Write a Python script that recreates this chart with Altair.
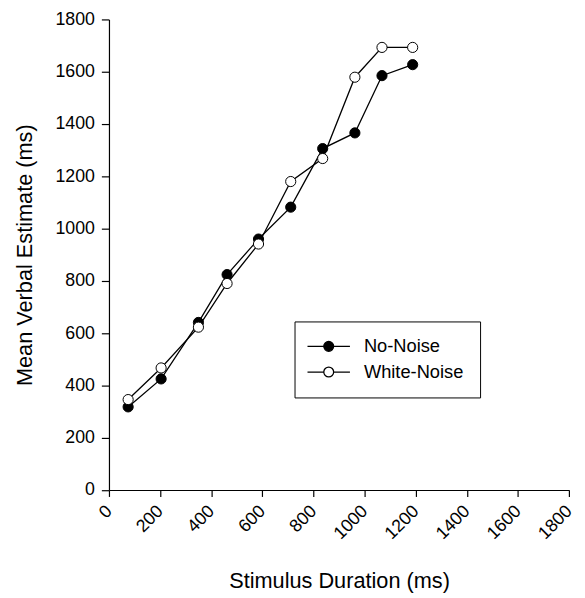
import altair as alt
import pandas as pd

# ---- data ----
durations = [75, 204, 350, 462, 585, 711, 836, 962, 1068, 1188]
no_noise = [318, 425, 641, 824, 960, 1082, 1306, 1366, 1585, 1627]
white_noise = [346, 467, 623, 790, 941, 1180, 1268, 1579, 1693, 1693]
series_names = ["No-Noise", "White-Noise"]
tick_values = [0, 200, 400, 600, 800, 1000, 1200, 1400, 1600, 1800]

rows = []
for name, vals in zip(series_names, [no_noise, white_noise]):
    for d, v in zip(durations, vals):
        rows.append({"duration": d, "estimate": v, "series": name})
df = pd.DataFrame(rows)

FONT = "Liberation Sans"

# legend symbol: a short line with a circle in the middle (circle built from Beziers)
K = 0.5523
LEG_PATH = (
    "M-4.3,0L-1,0M1,0L4.3,0"
    f"M1,0C1,{K} {K},1 0,1C-{K},1 -1,{K} -1,0C-1,-{K} -{K},-1 0,-1C{K},-1 1,-{K} 1,0Z"
)

x_enc = alt.X(
    "duration:Q",
    scale=alt.Scale(domain=[0, 1800], nice=False, zero=False),
    axis=alt.Axis(
        values=tick_values,
        format="d",
        title="Stimulus Duration (ms)",
        labelAngle=315,
        labelAlign="right",
        labelBaseline="middle",
        labelPadding=12,
        labelFontSize=18,
        tickSize=6.5,
        titleFontSize=22,
        titleBaseline="alphabetic",
        titleY=98.5,
    ),
)
y_enc = alt.Y(
    "estimate:Q",
    scale=alt.Scale(domain=[0, 1800], nice=False, zero=False),
    axis=alt.Axis(
        values=tick_values,
        format="d",
        title="Mean Verbal Estimate (ms)",
        labelFontSize=18,
        labelPadding=7,
        tickSize=7.7,
        titleFontSize=22,
        titleAngle=270,
        titleBaseline="alphabetic",
        titleX=-78.8,
    ),
)

lines = alt.Chart(df).mark_line(color="black", strokeWidth=1.3).encode(
    x=x_enc, y=y_enc, detail="series:N", order="duration:Q"
)

points = alt.Chart(df).mark_point(
    filled=True, shape="circle", size=106, stroke="black", strokeWidth=1,
    opacity=1, fillOpacity=1, strokeOpacity=1
).encode(
    x=x_enc,
    y=y_enc,
    fill=alt.Fill(
        "series:N",
        scale=alt.Scale(domain=series_names, range=["black", "white"]),
        legend=alt.Legend(
            title=None,
            orient="none",
            legendX=188,
            legendY=306,
            padding=16,
            symbolType=LEG_PATH,
            symbolSize=100,
            symbolStrokeColor="black",
            symbolStrokeWidth=1.3,
            symbolOffset=9.4,
            labelOffset=26.4,
            labelFontSize=18.5,
            labelFont=FONT,
            labelColor="black",
            rowPadding=7,
        ),
    ),
)

chart = (
    alt.layer(lines, points)
    .properties(
        width=466.2,
        height=476.8,
        autosize=alt.AutoSizeParams(type="none"),
        padding={"left": 102.3, "top": 7.7, "right": 8, "bottom": 105},
    )
    .configure_view(stroke=None)
    .configure_axis(
        grid=False,
        domainColor="black",
        domainWidth=1.2,
        tickColor="black",
        tickWidth=1.2,
        labelColor="black",
        titleColor="black",
        labelFont=FONT,
        titleFont=FONT,
        titleFontWeight="normal",
    )
    .configure_legend(strokeColor="black", strokeWidth=1, fillColor="white")
)

chart.save("out.html", embed_options={"renderer": "svg", "actions": False})
